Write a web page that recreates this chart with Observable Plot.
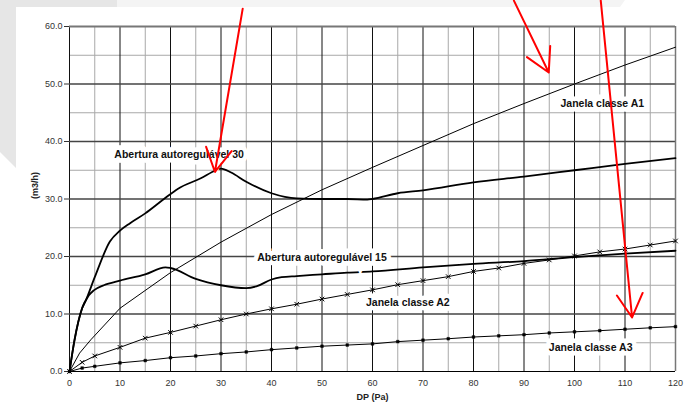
<!DOCTYPE html>
<html>
<head>
<meta charset="utf-8">
<script src="https://cdn.jsdelivr.net/npm/d3@7"></script>
<script src="https://cdn.jsdelivr.net/npm/@observablehq/plot@0.6"></script>
<style>
  html, body { margin: 0; padding: 0; background: #fff; }
  #wrap { position: relative; width: 687px; height: 404px; overflow: hidden; font-family: "Liberation Sans", Arial, sans-serif; }
  .deco { position: absolute; }
  #chart { position: absolute; left: 0; top: 0; }
  #chart svg { background: transparent; }
</style>
</head>
<body>
<div id="wrap">
  <div class="deco" style="left:0;top:0;width:117px;height:7px;background:#e6e6e6"></div>
  <div class="deco" style="left:117px;top:0;width:508px;height:7px;background:#f4f4f4;clip-path:polygon(0 0,100% 0,calc(100% - 5px) 100%,0 100%)"></div>
  <div class="deco" style="left:0;top:0;width:16px;height:168px;background:#e6e6e6;clip-path:polygon(0 0,100% 0,100% 100%,0 152px)"></div>
  <div id="chart"></div>
</div>
<script>
// Janela classe A1 (thin line)
const a1X = [0, 2, 4.2, 10, 20, 30, 40, 50, 60, 70, 80, 90, 100, 110, 120];
const a1Y = [0, 3.2, 5.5, 11.0, 17.2, 22.5, 27.3, 31.6, 35.5, 39.3, 43.1, 46.6, 50.0, 53.3, 56.4];

// Abertura autoregulável 30 (thick line)
const a30X = [0, 1, 2.5, 3.2, 5, 8, 10, 12, 15, 18.7, 21.5, 26, 29, 30, 32, 35, 40, 45, 50, 55, 59, 60, 65, 70, 80, 90, 100, 110, 120];
const a30Y = [0, 5.5, 11.0, 12.3, 16.4, 22.6, 24.5, 25.8, 27.5, 30.0, 31.8, 33.6, 35.0, 35.3, 34.6, 33.0, 31.0, 30.1, 30.0, 30.0, 29.9, 30.0, 31.0, 31.5, 32.9, 33.9, 35.0, 36.1, 37.1];

// Abertura autoregulável 15 (thick line)
const a15X = [0, 1, 2.5, 3.8, 4.8, 6.8, 10, 15, 19, 20, 25, 30, 35, 37, 40, 42, 45, 50, 55, 60, 70, 80, 90, 100, 110, 120];
const a15Y = [0, 5.5, 11.0, 13.2, 14.1, 15.0, 15.8, 16.9, 18.1, 18.0, 16.1, 15.0, 14.5, 14.8, 16.0, 16.4, 16.6, 16.9, 17.2, 17.4, 18.1, 18.7, 19.2, 19.9, 20.5, 21.0];

// Janela classe A2 (thin line, x markers)
const a2X = [0, 2.5, 5, 10, 15, 20, 25, 30, 35, 40, 45, 50, 55, 60, 65, 70, 75, 80, 85, 90, 95, 100, 105, 110, 115, 120];
const a2Y = [0, 1.6, 2.7, 4.2, 5.8, 6.8, 7.9, 9.0, 10.0, 10.9, 11.7, 12.6, 13.4, 14.2, 15.1, 15.8, 16.5, 17.4, 18.0, 18.8, 19.4, 20.1, 20.8, 21.3, 22.0, 22.7];

// Janela classe A3 (thin line, square markers)
const a3X = [0, 2.5, 5, 10, 15, 20, 25, 30, 35, 40, 45, 50, 55, 60, 65, 70, 75, 80, 85, 90, 95, 100, 105, 110, 115, 120];
const a3Y = [0, 0.6, 0.9, 1.5, 1.9, 2.4, 2.7, 3.1, 3.4, 3.8, 4.1, 4.4, 4.6, 4.8, 5.2, 5.45, 5.7, 6.0, 6.2, 6.4, 6.7, 6.9, 7.1, 7.35, 7.6, 7.8];

// Tick values
const xTicks = [0, 10, 20, 30, 40, 50, 60, 70, 80, 90, 100, 110, 120];
const xMinor = [5, 15, 25, 35, 45, 55, 65, 75, 85, 95, 105, 115];
const yTicks = [0, 10, 20, 30, 40, 50, 60];
const yMinor = [5, 15, 25, 35, 45, 55];

// Series labels
const labelText = ["Abertura autoregulável 30", "Abertura autoregulável 15", "Janela classe A1", "Janela classe A2", "Janela classe A3"];
const labelX = [21.7, 50.0, 105.5, 67.0, 103.2];
const labelY = [37.7, 19.8, 46.6, 12.0, 4.2];

// Red annotation arrows (data units)
const arrowX1 = [34.3, 88.0, 105.2];
const arrowY1 = [63.1, 64.5, 64.5];
const arrowX2 = [28.8, 94.9, 111.4];
const arrowY2 = [34.7, 52.0, 9.4];

const zip = (xs, ys) => xs.map((x, i) => ({x, y: ys[i]}));
const a1 = zip(a1X, a1Y), a30 = zip(a30X, a30Y), a15 = zip(a15X, a15Y), a2 = zip(a2X, a2Y), a3 = zip(a3X, a3Y);
const labels = labelText.map((t, i) => ({t, x: labelX[i], y: labelY[i]}));
const arrows = arrowX1.map((x1, i) => ({x1, y1: arrowY1[i], x2: arrowX2[i], y2: arrowY2[i]}));

const chart = Plot.plot({
  width: 687,
  height: 404,
  marginLeft: 69,
  marginRight: 12,
  marginTop: 26,
  marginBottom: 33,
  style: {background: "transparent", fontFamily: "'Liberation Sans', Arial, sans-serif", fontSize: "9px", color: "#333"},
  x: {domain: [0, 120], ticks: xTicks, tickSize: 0, tickPadding: 8, label: null},
  y: {domain: [0, 60], ticks: yTicks, tickSize: 5, tickPadding: 2, label: null, tickFormat: d => d.toFixed(1)},
  marks: [
    Plot.ruleX(xMinor, {stroke: "#a8a8a8", strokeWidth: 1}),
    Plot.ruleY(yMinor, {stroke: "#a8a8a8", strokeWidth: 1}),
    Plot.ruleX(xTicks.filter(d => d < 120), {stroke: "#111", strokeWidth: 1}),
    Plot.ruleY(yTicks.filter(d => d > 0 && d < 60), {stroke: "#444", strokeWidth: 1.3}),
    Plot.ruleX([120], {stroke: "#777", strokeWidth: 1.5}),
    Plot.ruleY([60], {stroke: "#777", strokeWidth: 2}),
    Plot.ruleY([0], {stroke: "#000", strokeWidth: 1.2}),
    Plot.line(a1, {x: "x", y: "y", stroke: "#000", strokeWidth: 1}),
    Plot.line(a2, {x: "x", y: "y", stroke: "#000", strokeWidth: 1}),
    Plot.dot(a2, {x: "x", y: "y", symbol: "times", r: 2.2, stroke: "#000", strokeWidth: 1}),
    Plot.line(a3, {x: "x", y: "y", stroke: "#000", strokeWidth: 1}),
    Plot.dot(a3, {x: "x", y: "y", symbol: "square", r: 1.5, fill: "#000", stroke: "#000", strokeWidth: 0.5}),
    Plot.line(a30, {x: "x", y: "y", stroke: "#000", strokeWidth: 1.8, curve: "monotone-x"}),
    Plot.line(a15, {x: "x", y: "y", stroke: "#000", strokeWidth: 1.8, curve: "monotone-x"}),
    Plot.text(labels, {x: "x", y: "y", text: "t", fontSize: 10.5, fontWeight: "bold", fill: "#111",
      stroke: "#fff", strokeWidth: 9, strokeLinejoin: "miter", paintOrder: "stroke"}),
    Plot.text(["DP (Pa)"], {frameAnchor: "bottom", dy: 28, fontSize: 9, fontWeight: "bold", fill: "#222"}),
    Plot.text(["(m3/h)"], {frameAnchor: "left", dx: -34, rotate: -90, fontSize: 9, fontWeight: "bold", fill: "#222"}),
    Plot.arrow(arrows, {x1: "x1", y1: "y1", x2: "x2", y2: "y2", stroke: "#ff0000", strokeWidth: 2, headLength: 20, headAngle: 58})
  ]
});
document.getElementById("chart").appendChild(chart);
</script>
</body>
</html>
